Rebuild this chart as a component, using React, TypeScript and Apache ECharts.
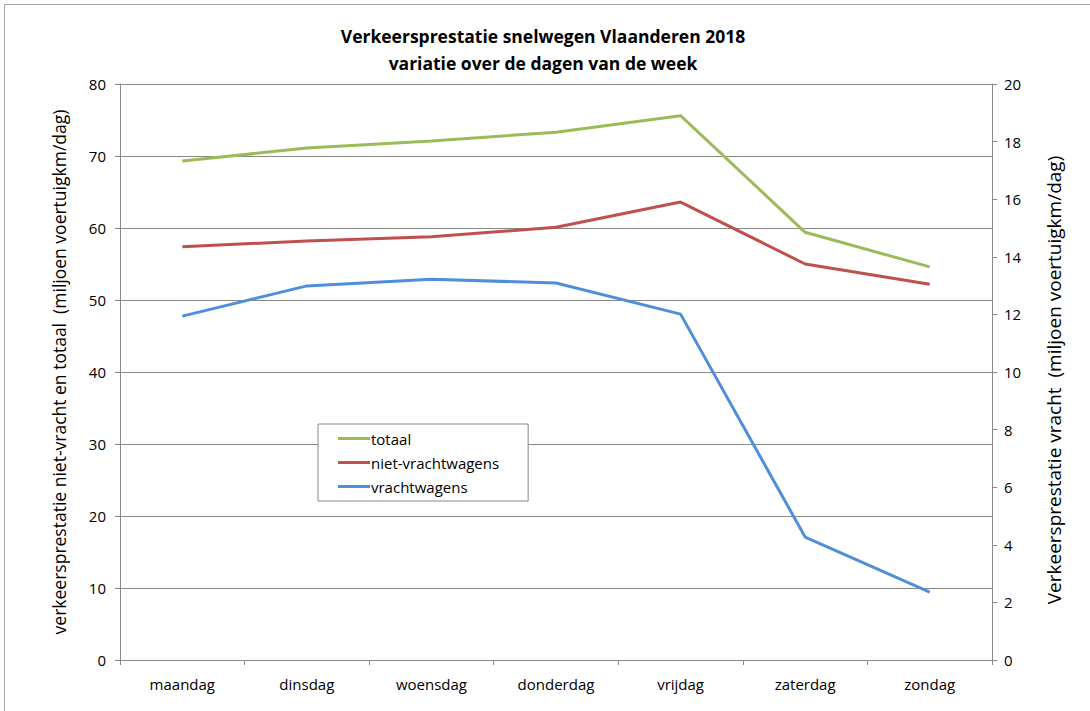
import React, { useEffect, useRef } from "react";
import * as echarts from "echarts";

const days = ["maandag", "dinsdag", "woensdag", "donderdag", "vrijdag", "zaterdag", "zondag"];
const totaal = [69.3, 71.1, 72.1, 73.3, 75.6, 59.4, 54.6];
const nietVracht = [57.4, 58.2, 58.8, 60.1, 63.6, 55.0, 52.2];
const vracht = [11.94, 12.99, 13.22, 13.09, 12.01, 4.27, 2.36];

const FONT = "'Open Sans', 'Noto Sans', sans-serif";

export default function App() {
  const ref = useRef<HTMLDivElement>(null);
  useEffect(() => {
    const chart = echarts.init(ref.current!, null, { renderer: "svg" });
    chart.setOption({
      animation: false,
      backgroundColor: "#ffffff",
      textStyle: { fontFamily: FONT, color: "#000" },
      title: {
        text: "Verkeersprestatie snelwegen Vlaanderen 2018\nvariatie over de dagen van de week",
        left: 538,
        textAlign: "center",
        top: 17,
        textStyle: { fontSize: 17.5, fontWeight: "bold", lineHeight: 27, fontFamily: FONT, color: "#000" },
      },
      graphic: [
        {
          type: "rect",
          shape: { x: 4.5, y: 4.5, width: 1100, height: 720 },
          style: { fill: "none", stroke: "#a6a6a6", lineWidth: 1 },
          silent: true,
        },
      ],
      legend: {
        orient: "vertical",
        left: 318,
        top: 424,
        padding: [7, 29, 7, 20],
        itemWidth: 32,
        itemHeight: 3,
        itemGap: 9,
        borderColor: "#888",
        borderWidth: 1,
        backgroundColor: "#fff",
        icon: "rect",
        textStyle: { fontSize: 15, fontFamily: FONT, color: "#000", padding: [0, 0, 0, -4] },
        data: ["totaal", "niet-vrachtwagens", "vrachtwagens"],
      },
      grid: { left: 120, right: 98, top: 84, bottom: 51, containLabel: false },
      xAxis: {
        type: "category",
        data: days,
        boundaryGap: true,
        axisLine: { lineStyle: { color: "#888" } },
        axisTick: { show: true, length: 5, lineStyle: { color: "#888" } },
        axisLabel: { fontSize: 15, color: "#000", margin: 16, fontFamily: FONT },
      },
      yAxis: [
        {
          type: "value",
          min: 0,
          max: 80,
          interval: 10,
          name: "verkeersprestatie niet-vracht en totaal  (miljoen voertuigkm/dag)",
          nameLocation: "middle",
          nameGap: 52,
          nameMoveOverlap: false,
          nameRotate: 90,
          nameTextStyle: { fontSize: 17.5, color: "#000", fontFamily: FONT },
          axisLine: { show: true, lineStyle: { color: "#888" } },
          axisTick: { show: true, length: 5, lineStyle: { color: "#888" } },
          axisLabel: { fontSize: 15, color: "#000", margin: 14, fontFamily: FONT },
          splitLine: { show: true, lineStyle: { color: "#888" } },
        },
        {
          type: "value",
          min: 0,
          max: 20,
          interval: 2,
          name: "Verkeersprestatie vracht  (miljoen voertuigkm/dag)",
          nameLocation: "middle",
          nameGap: 52,
          nameRotate: 90,
          nameTextStyle: { fontSize: 19, color: "#000", fontFamily: FONT, padding: [0, 16, 0, 0] },
          axisLine: { show: true, lineStyle: { color: "#888" } },
          axisTick: { show: true, length: 5, lineStyle: { color: "#888" } },
          axisLabel: { fontSize: 15, color: "#000", margin: 12, fontFamily: FONT },
          splitLine: { show: false },
        },
      ],
      series: [
        {
          name: "totaal",
          type: "line",
          data: totaal,
          yAxisIndex: 0,
          symbol: "none",
          color: "#9bbb59",
          lineStyle: { width: 3, color: "#9bbb59" },
        },
        {
          name: "niet-vrachtwagens",
          type: "line",
          data: nietVracht,
          yAxisIndex: 0,
          symbol: "none",
          color: "#c0504d",
          lineStyle: { width: 3, color: "#c0504d" },
        },
        {
          name: "vrachtwagens",
          type: "line",
          data: vracht,
          yAxisIndex: 1,
          symbol: "none",
          color: "#4f8fd9",
          lineStyle: { width: 3, color: "#4f8fd9" },
        },
      ],
    });
    return () => chart.dispose();
  }, []);
  return (
    <div
      ref={ref}
      style={{ position: "absolute", left: 0, top: 0, width: 1090, height: 711 }}
    />
  );
}
